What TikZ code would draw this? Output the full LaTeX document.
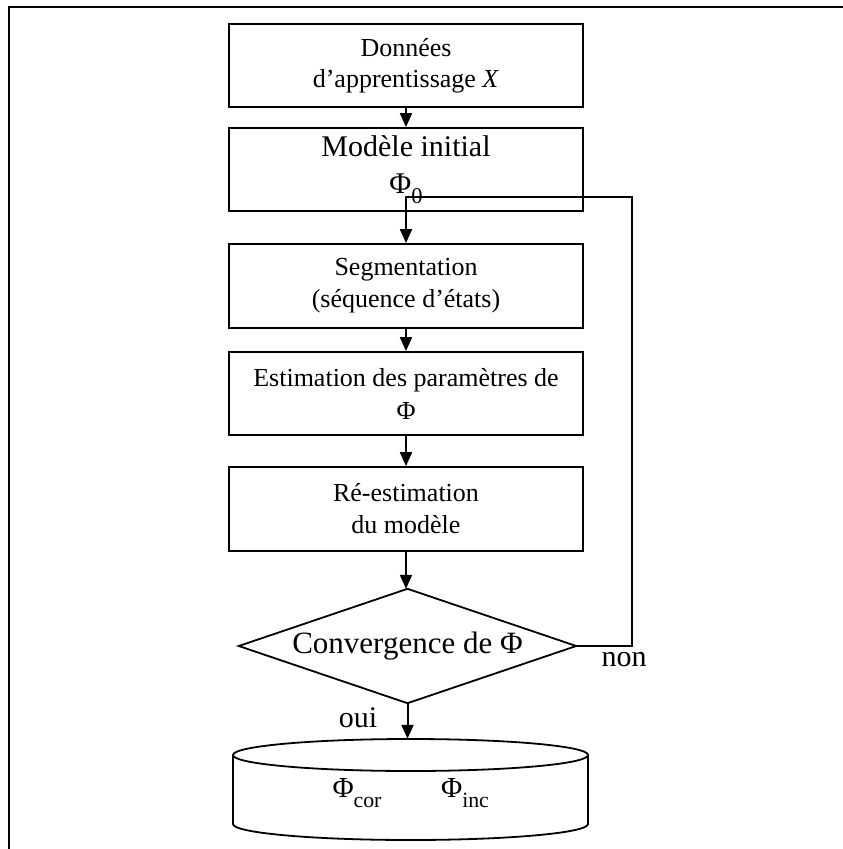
\documentclass[tikz,border=0pt]{standalone}
\usepackage{fontspec}
\setmainfont{Liberation Serif}
\usetikzlibrary{arrows.meta}
\newcommand\phsub[1]{Φ\raisebox{-0.32em}{\scalebox{0.75}{#1}}}
\begin{document}
\begin{tikzpicture}[x=1pt,y=-1pt,
  box/.style={draw, line width=1.8pt, minimum width=354pt, minimum height=83pt, inner sep=0pt, align=center, font=\fontsize{26}{31}\selectfont},
  arr/.style={line width=2pt, -{Triangle[length=14pt,width=12pt]}},
  lbl/.style={inner sep=0pt, font=\fontsize{30}{36}\selectfont}]
\useasboundingbox (0,0) rectangle (843,849);
% outer frame
\draw[line width=2.6pt] (9,849) -- (9,7) -- (843,7);
% boxes
\node[box] (b1) at (406,65.5) {Données\\d’apprentissage \textit{X}};
\node[box, font=\fontsize{30}{37}\selectfont] (b2) at (406,169.5) {Modèle initial\\\phsub{0}};
\node[box, minimum height=84pt, font=\fontsize{26}{32}\selectfont] (b3) at (406,286) {Segmentation\\(séquence d’états)};
\node[box, font=\fontsize{26}{33}\selectfont] (b4) at (406,393.5) {Estimation des paramètres de\\Φ};
\node[box, minimum height=84pt, font=\fontsize{26}{32}\selectfont] (b5) at (406,509) {Ré-estimation\\du modèle};
% decision
\node[minimum width=337pt, minimum height=114pt, inner sep=0pt, font=\fontsize{31}{36}\selectfont] (d) at (407.5,646) {Convergence de Φ};
\draw[line width=1.8pt] (d.north) -- (d.east) -- (d.south) -- (d.west) -- cycle;
% database
\node[minimum width=355pt, minimum height=101pt, inner sep=0pt] (db) at (410.5,789.5) {};
\coordinate (dbc) at (410.5,755);
\draw[line width=1.8pt] (dbc) ellipse [x radius=177.5pt, y radius=16pt];
\draw[line width=1.8pt] (233,755) -- (233,824) arc[start angle=180, end angle=360, x radius=177.5pt, y radius=16pt] -- (588,755);
\node[lbl, font=\fontsize{29}{32}\selectfont] (pc) at (357,793) {\phsub{cor}};
\node[lbl, font=\fontsize{29}{32}\selectfont] (pi) at (465,793) {\phsub{inc}};
% labels
\node[lbl] (non) at (624,660) {non};
\node[lbl] (oui) at (358,718) {oui};
% arrows
\draw[arr] (b1.south) -- (b2.north);
\draw[arr] (b3.south) -- (b4.north);
\draw[arr] (b4.south) -- (b5.north);
\draw[arr] (b5.south) -- (b5.south |- d.north);
\draw[arr] (d.south) -- (d.south |- db.north);
\coordinate (fr) at (632,646);
\coordinate (ft) at (632,197);
\coordinate (fl) at (406,197);
\draw[arr] (d.east) -- (fr) -- (ft) -- (fl) -- (b3.north);
\end{tikzpicture}
\end{document}
